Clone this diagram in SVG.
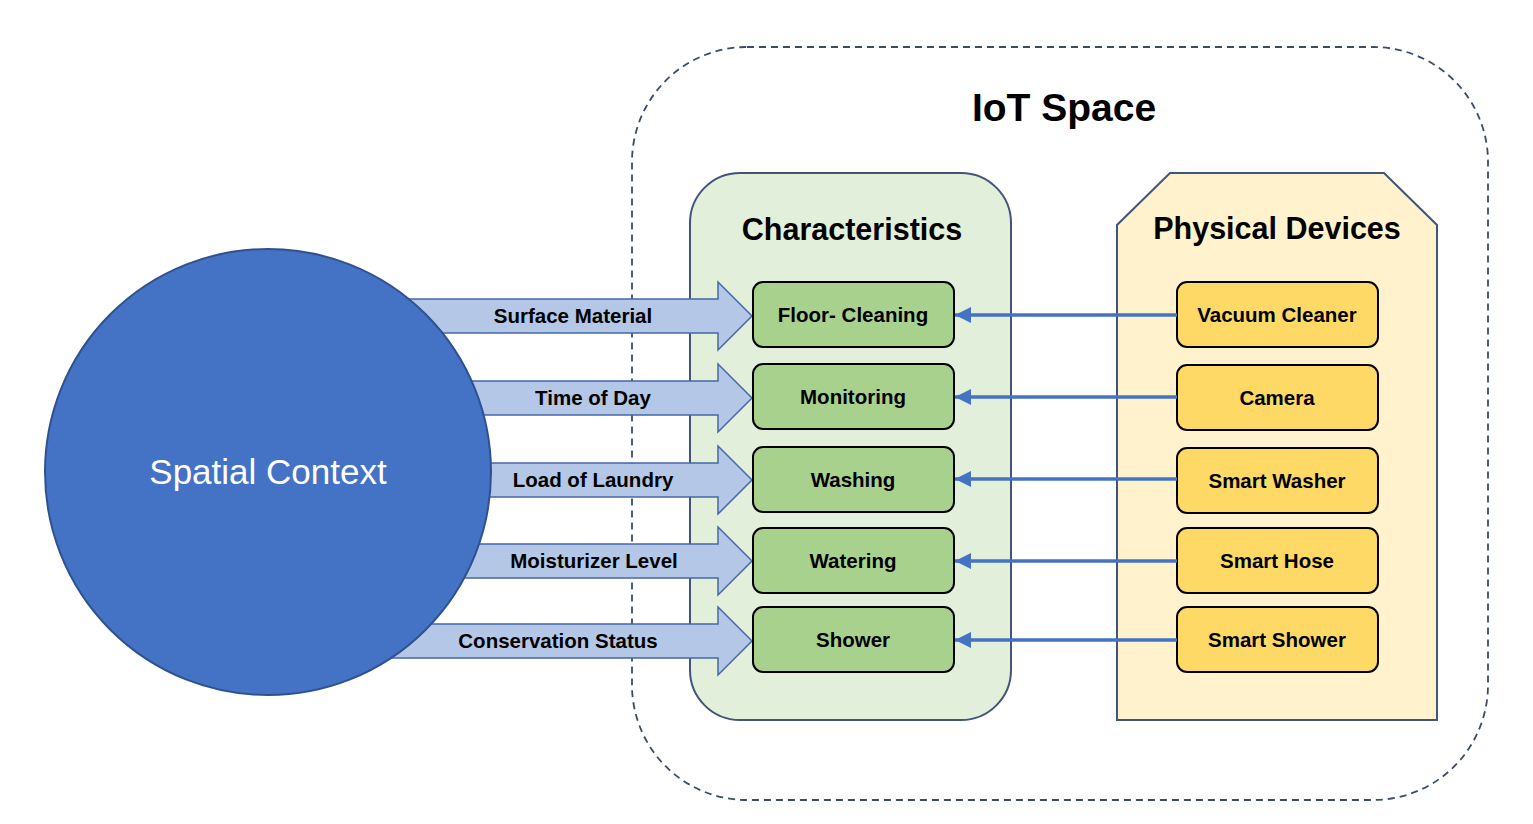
<svg xmlns="http://www.w3.org/2000/svg" width="1533" height="824" viewBox="0 0 1533 824">
<style>
.title{font-family:"Liberation Sans",Arial,sans-serif;font-weight:bold;fill:#000;text-anchor:middle}
.lbl{font-family:"Liberation Sans",Arial,sans-serif;font-weight:bold;font-size:20.5px;fill:#000;text-anchor:middle}
.barrow{fill:#B4C7E7;stroke:#4468A8;stroke-width:1.5;stroke-linejoin:miter}
.green{fill:#A9D18E;stroke:#000;stroke-width:2}
.yellow{fill:#FFD966;stroke:#000;stroke-width:2}
.conn{stroke:#4472C4;stroke-width:3.5;fill:none}
</style>
<defs>
<path id="blk" d="M300,-17 H718 V-34 L752,0 L718,34 V17 H300 Z"/>
<marker id="ah" markerUnits="userSpaceOnUse" markerWidth="18" markerHeight="16" refX="16" refY="8" orient="auto">
<path d="M0,0 L16,8 L0,16 Z" fill="#4472C4"/>
</marker>
</defs>
<rect width="1533" height="824" fill="#fff"/>
<g id="iot-space">
<rect x="632" y="47" width="856" height="753" rx="115" ry="115" fill="none" stroke="#3B4C68" stroke-width="1.8" stroke-dasharray="7 5"/>
<text class="title" x="1064" y="121" font-size="39">IoT Space</text>
</g>
<g id="characteristics">
<rect x="690" y="173" width="321" height="547" rx="50" ry="50" fill="#E2EFDA" stroke="#41557A" stroke-width="2"/>
<text class="title" x="852" y="240" font-size="30.5">Characteristics</text>
</g>
<g id="physical-devices">
<polygon points="1170,173 1384,173 1437,225 1437,720 1117,720 1117,225" fill="#FFF2CC" stroke="#41557A" stroke-width="2"/>
<text class="title" x="1277" y="239" font-size="30.5">Physical Devices</text>
</g>
<g id="context-arrows">
<g id="arrow-surface"><use href="#blk" class="barrow" transform="translate(0,316)"/></g>
<g id="arrow-time"><use href="#blk" class="barrow" transform="translate(0,398)"/></g>
<g id="arrow-laundry"><use href="#blk" class="barrow" transform="translate(0,480)"/></g>
<g id="arrow-moist"><use href="#blk" class="barrow" transform="translate(0,561)"/></g>
<g id="arrow-conserv"><use href="#blk" class="barrow" transform="translate(0,641)"/></g>
</g>
<g id="spatial-context">
<circle cx="268" cy="472" r="223" fill="#4472C4" stroke="#2F528F" stroke-width="2"/>
<text x="268" y="484" font-family="Liberation Sans,Arial,sans-serif" font-size="35" fill="#fff" text-anchor="middle">Spatial Context</text>
</g>
<g id="arrow-labels">
<text class="lbl" x="573" y="323">Surface Material</text>
<text class="lbl" x="593" y="405">Time of Day</text>
<text class="lbl" x="593" y="487">Load of Laundry</text>
<text class="lbl" x="594" y="568">Moisturizer Level</text>
<text class="lbl" x="558" y="648">Conservation Status</text>
</g>
<g id="char-floor"><rect class="green" x="753" y="282" width="201" height="65" rx="10"/><text class="lbl" x="853" y="322">Floor- Cleaning</text></g>
<g id="char-monitor"><rect class="green" x="753" y="364" width="201" height="65" rx="10"/><text class="lbl" x="853" y="404">Monitoring</text></g>
<g id="char-washing"><rect class="green" x="753" y="447" width="201" height="65" rx="10"/><text class="lbl" x="853" y="487">Washing</text></g>
<g id="char-watering"><rect class="green" x="753" y="528" width="201" height="65" rx="10"/><text class="lbl" x="853" y="568">Watering</text></g>
<g id="char-shower"><rect class="green" x="753" y="607" width="201" height="65" rx="10"/><text class="lbl" x="853" y="647">Shower</text></g>
<g id="dev-vacuum"><rect class="yellow" x="1177" y="282" width="201" height="65" rx="10"/><text class="lbl" x="1277" y="322">Vacuum Cleaner</text></g>
<g id="dev-camera"><rect class="yellow" x="1177" y="365" width="201" height="65" rx="10"/><text class="lbl" x="1277" y="405">Camera</text></g>
<g id="dev-washer"><rect class="yellow" x="1177" y="448" width="201" height="65" rx="10"/><text class="lbl" x="1277" y="488">Smart Washer</text></g>
<g id="dev-hose"><rect class="yellow" x="1177" y="528" width="201" height="65" rx="10"/><text class="lbl" x="1277" y="568">Smart Hose</text></g>
<g id="dev-shower"><rect class="yellow" x="1177" y="607" width="201" height="65" rx="10"/><text class="lbl" x="1277" y="647">Smart Shower</text></g>
<g id="connectors">
<line class="conn" x1="1177" y1="315" x2="955" y2="315" marker-end="url(#ah)"/>
<line class="conn" x1="1177" y1="397" x2="955" y2="397" marker-end="url(#ah)"/>
<line class="conn" x1="1177" y1="479" x2="955" y2="479" marker-end="url(#ah)"/>
<line class="conn" x1="1177" y1="561" x2="955" y2="561" marker-end="url(#ah)"/>
<line class="conn" x1="1177" y1="640" x2="955" y2="640" marker-end="url(#ah)"/>
</g>
</svg>
